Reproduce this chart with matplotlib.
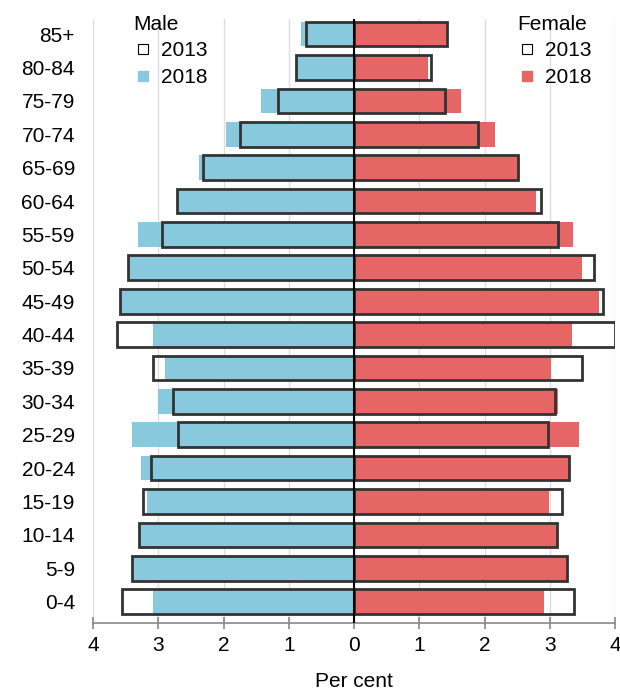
import matplotlib.pyplot as plt
from matplotlib.lines import Line2D

plt.rcParams['font.family'] = ['Liberation Sans', 'DejaVu Sans']

# age groups, bottom to top
ages = ['0-4', '5-9', '10-14', '15-19', '20-24', '25-29', '30-34', '35-39',
        '40-44', '45-49', '50-54', '55-59', '60-64', '65-69', '70-74',
        '75-79', '80-84', '85+']

male_2018 = [3.08, 3.41, 3.30, 3.17, 3.27, 3.41, 3.00, 2.90, 3.08, 3.59,
             3.46, 3.31, 2.72, 2.38, 1.96, 1.43, 0.89, 0.82]
male_2013 = [3.55, 3.41, 3.30, 3.24, 3.11, 2.69, 2.77, 3.08, 3.63, 3.59,
             3.46, 2.95, 2.72, 2.31, 1.74, 1.17, 0.89, 0.73]
female_2018 = [2.91, 3.26, 3.13, 2.99, 3.29, 3.45, 3.13, 3.02, 3.34, 3.76,
               3.50, 3.35, 2.79, 2.51, 2.16, 1.64, 1.14, 1.44]
female_2013 = [3.37, 3.26, 3.11, 3.18, 3.29, 2.98, 3.08, 3.50, 4.00, 3.82,
               3.68, 3.12, 2.86, 2.51, 1.90, 1.40, 1.18, 1.42]

blue = '#88c9dd'
red = '#e56664'
edge = '#333333'
fs = 15

fig = plt.figure(figsize=(6.2, 6.91), dpi=100)
ax = fig.add_axes([0.15, 0.0984, 0.842, 0.874])

y = range(len(ages))
h = 0.74
ax.barh(y, [-v for v in male_2018], height=h, color=blue, zorder=2)
ax.barh(y, female_2018, height=h, color=red, zorder=2)
ax.barh(y, [-v for v in male_2013], height=h, facecolor='none',
        edgecolor=edge, linewidth=2, zorder=3)
ax.barh(y, female_2013, height=h, facecolor='none',
        edgecolor=edge, linewidth=2, zorder=3)

ax.axvline(0, color='black', linewidth=1.5, zorder=4)

ax.set_xlim(-4, 4)
ax.set_ylim(-0.64, len(ages) - 1 + 0.45)
ax.set_xticks(range(-4, 5))
ax.set_xticklabels([str(abs(t)) for t in range(-4, 5)])
ax.set_yticks(list(y))
ax.set_yticklabels(ages)
ax.xaxis.grid(True, color='#dddddd', linewidth=1, zorder=0)
ax.set_axisbelow(True)

for s in ['top', 'right', 'left']:
    ax.spines[s].set_visible(False)
ax.spines['bottom'].set_color('#888888')
ax.spines['bottom'].set_linewidth(1.2)
ax.tick_params(axis='x', direction='inout', length=9, width=1.2,
               color='#888888', labelsize=fs, pad=5)
ax.tick_params(axis='y', length=0, labelsize=fs, pad=13)
ax.set_xlabel('Per cent', fontsize=fs, labelpad=12)


def side_legend(title, color, x):
    handles = [
        Line2D([], [], marker='s', linestyle='none', markersize=6.5,
               markerfacecolor='white', markeredgecolor='black',
               markeredgewidth=0.8, label='2013'),
        Line2D([], [], marker='s', linestyle='none', markersize=6.5,
               markerfacecolor=color, markeredgecolor=color, label='2018'),
    ]
    leg = fig.legend(handles=handles, title=title, loc='upper left',
                     bbox_to_anchor=(x, 0.978), frameon=False, fontsize=fs,
                     title_fontsize=fs, alignment='left', handlelength=1.0,
                     handletextpad=0.35, labelspacing=0.4, borderpad=0,
                     borderaxespad=0)
    leg._legend_box.sep = 5
    return leg


side_legend('Male', blue, 0.2145)
side_legend('Female', red, 0.834)

fig.savefig('out.png', dpi=100)
